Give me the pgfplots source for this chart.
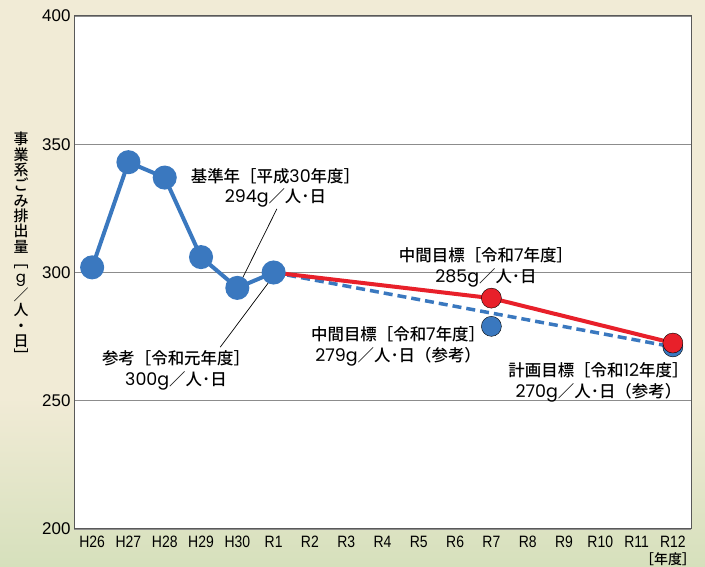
\documentclass[border=0pt]{standalone}
\usepackage{pgfplots}
\pgfplotsset{compat=1.18}
\usepackage{fontspec}
\setmainfont{Liberation Sans}
\newfontfamily\cjk{Noto Sans CJK JP Medium}
\newfontfamily\lat{Poppins}
\newfontfamily\narrow[FakeStretch=0.85]{Liberation Sans}
\newcommand\nm[1]{{\lat\fontsize{17.5}{21}\selectfont #1}}
\definecolor{myblue}{HTML}{3A78BF}
\definecolor{myred}{HTML}{E8202A}
\definecolor{bgtop}{HTML}{F1EBD6}
\definecolor{bgbot}{HTML}{D6E0BC}
\definecolor{gridgray}{HTML}{8C8C8C}
\begin{document}
\begin{tikzpicture}[x=1bp,y=1bp]
\fill[bgtop] (0,0) rectangle (705,567);
\shade[bottom color=bgbot, top color=bgtop] (0,0) rectangle (705,170);
\path[use as bounding box] (0,0) rectangle (705,567);
\begin{axis}[
  at={(74bp,38bp)}, anchor=south west,
  width=617bp, height=513bp, scale only axis,
  xmin=-0.5, xmax=16.5, ymin=200, ymax=400,
  axis background/.style={fill=white},
  xtick={0,...,16},
  xticklabels={H26,H27,H28,H29,H30,R1,R2,R3,R4,R5,R6,R7,R8,R9,R10,R11,R12},
  x tick label style={font=\narrow\fontsize{16.5}{18}\selectfont, yshift=-4bp},
  ytick={200,250,...,400},
  y tick label style={font=\fontsize{17}{18}\selectfont},
  /pgf/number format/assume math mode=true,
  ymajorgrids, grid style={gridgray, line width=0.8bp},
  major tick length=0pt,
  axis line style={draw=black!65, line width=1bp},
  clip=false,
]
% dashed reference line
\addplot[myblue, line width=3.5bp, dash pattern=on 9bp off 5bp] coordinates {(5,300)(16,271)};
% blue reference points
\addplot[only marks, mark=*, mark size=10bp, mark options={fill=myblue, draw=none}] coordinates {(11,279)(16,271)};
% red target line
\addplot[myred, line width=4bp] coordinates {(5,300)(11,290)(16,272.5)};
% blue actual series
\addplot[myblue, line width=4bp, mark=*, mark size=10bp, mark options={fill=myblue, draw=none}] coordinates {(0,302)(1,343)(2,337)(3,306)(4,294)(5,300)};
% red target marks
\addplot[only marks, mark=*, mark size=10bp, mark options={fill=myred, draw=none}] coordinates {(11,290)(16,272.5)};
% leader lines
\draw[black, line width=0.7bp] (axis cs:5.09,324.8) -- (axis cs:4.02,294.3);
\draw[black, line width=0.7bp] (axis cs:4.85,295.9) -- (axis cs:3.53,270.9);
% annotations
\tikzset{ann/.style={align=center, font=\cjk\fontsize{16.5}{21}\selectfont}}
\node[ann] at (axis cs:5.05,333) {基準年［平成\nm{30}年度］\\\nm{294g}／人･日};
\node[ann] at (axis cs:2.31,262) {参考［令和元年度］\\\nm{300g}／人･日};
\node[ann] at (axis cs:10.85,302.1) {中間目標［令和\nm{7}年度］\\\nm{285g}／人･日};
\node[ann] at (axis cs:8.43,271.3) {中間目標［令和\nm{7}年度］\\\nm{279g}／人･日（参考）};
\node[ann] at (axis cs:13.95,257.1) {計画目標［令和\nm{12}年度］\\\nm{270g}／人･日（参考）};
\end{axis}
\node[align=center, inner sep=0pt, font=\cjk\fontsize{15}{15.4}\selectfont] at (21,320) {事\\業\\系\\ご\\み\\排\\出\\量\\﹇\\{\lat g}\\／\\人\\・\\日\\﹈};
\node[font=\cjk\fontsize{14}{16}\selectfont] at (668,8) {［年度］};
\end{tikzpicture}
\end{document}
